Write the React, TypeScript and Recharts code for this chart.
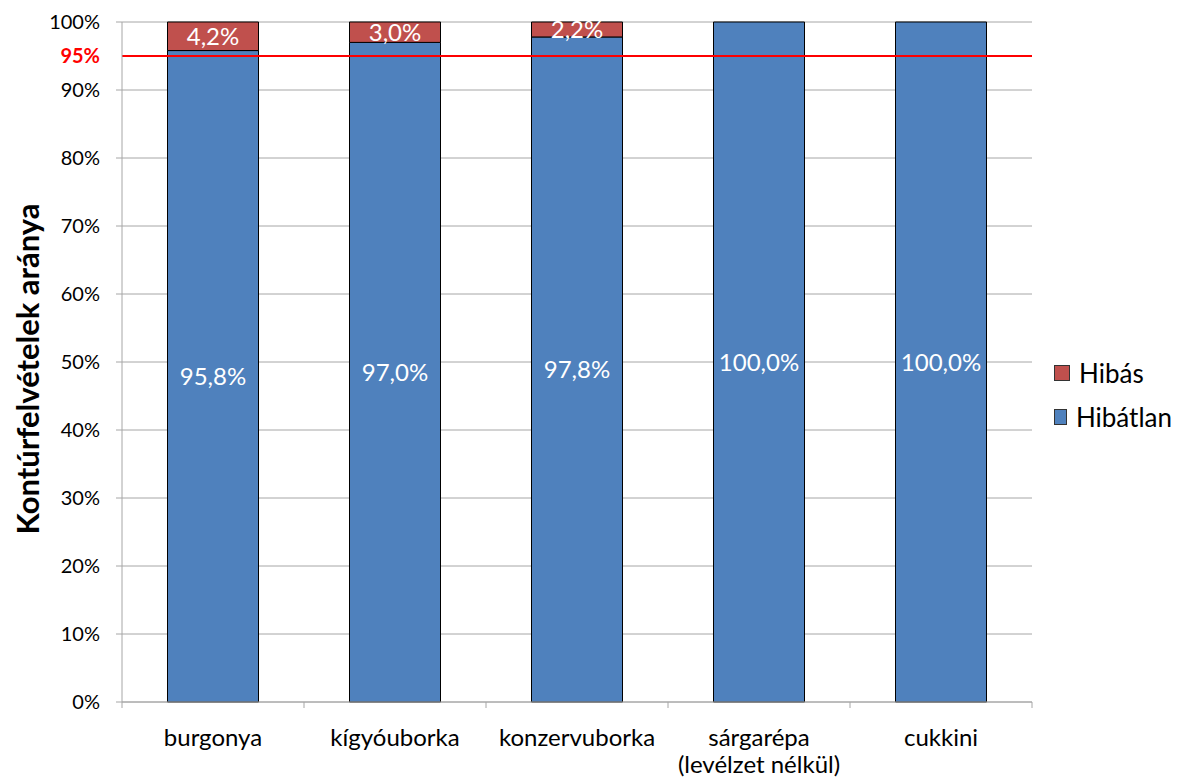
import { BarChart, Bar, XAxis, YAxis, CartesianGrid, Legend, LabelList, ReferenceLine } from 'recharts';

// Értékek (%)
const categories = ['burgonya', 'kígyóuborka', 'konzervuborka', 'sárgarépa\n(levélzet nélkül)', 'cukkini'];
const hibatlan = [95.8, 97.0, 97.8, 100.0, 100.0];
const hibas = [4.2, 3.0, 2.2, 0, 0];
const yTicks = [0, 10, 20, 30, 40, 50, 60, 70, 80, 90, 100];
const threshold = 95;

const FONT = 'Lato, "Open Sans", sans-serif';
const BLUE = '#4F81BD';
const RED = '#C0504D';
const GRID = '#A6A6A6';

const data = categories.map((name, i) => ({
  name,
  Hibatlan: hibatlan[i],
  Hibas: hibas[i]
}));

const fmt = (v: any) => {
  const n = Number(v);
  if (!n) return '';
  return n.toFixed(1).replace('.', ',') + '%';
};

const XTick = (props: any) => {
  const { x, payload, index } = props;
  const lines = String(payload.value).split('\n');
  const half = payload.offset ?? 91;
  const axisY = 702;
  return (
    <g>
      <line x1={x - half} x2={x - half} y1={axisY} y2={axisY + 6} stroke={GRID} />
      {index === categories.length - 1 && (
        <line x1={x + half} x2={x + half} y1={axisY} y2={axisY + 6} stroke={GRID} />
      )}
      <text x={x} y={axisY + 44} textAnchor="middle" fontSize={24} fontFamily={FONT} fill="#000">
        {lines.map((l, i) => (
          <tspan key={i} x={x} dy={i === 0 ? 0 : 27}>{l}</tspan>
        ))}
      </text>
    </g>
  );
};

const YLabel = (props: any) => {
  const { viewBox } = props;
  const cx = 27;
  const cy = viewBox.y + viewBox.height / 2 + 7;
  return (
    <text
      x={cx}
      y={cy}
      transform={`rotate(-90, ${cx}, ${cy})`}
      textAnchor="middle"
      dominantBaseline="central"
      fontSize={31}
      fontWeight="bold"
      fontFamily={FONT}
      fill="#000"
    >
      Kontúrfelvételek aránya
    </text>
  );
};

const legendItems = [
  { label: 'Hibás', color: RED },
  { label: 'Hibátlan', color: BLUE }
];

const LegendBox = () => (
  <div style={{ paddingLeft: 22, fontFamily: FONT, fontSize: 26, marginTop: 10 }}>
    {legendItems.map(item => (
      <div key={item.label} style={{ display: 'flex', alignItems: 'center', height: 44 }}>
        <span
          style={{
            display: 'inline-block',
            width: 14,
            height: 14,
            background: item.color,
            border: '1px solid #333',
            marginRight: 9
          }}
        />
        <span>{item.label}</span>
      </div>
    ))}
  </div>
);

export default function App() {
  return (
    <div style={{ width: 1184, height: 780, background: '#fff' }}>
      <style>{'body{margin:0}'}</style>
      <BarChart
        width={1184}
        height={780}
        data={data}
        margin={{ top: 22, right: 12, bottom: 0, left: 0 }}
        barCategoryGap="25%"
      >
        <CartesianGrid vertical={false} stroke={GRID} />
        <XAxis
          dataKey="name"
          axisLine={{ stroke: GRID }}
          tickLine={false}
          tick={<XTick />}
          height={78}
          interval={0}
        />
        <YAxis
          domain={[0, 100]}
          ticks={yTicks}
          width={122}
          axisLine={{ stroke: GRID }}
          tickLine={{ stroke: GRID }}
          tickSize={6}
          tickMargin={16}
          tick={{ fontSize: 20, fontFamily: FONT, fill: '#000' }}
          tickFormatter={(v: number) => `${v}%`}
          label={<YLabel />}
        />
        <Legend
          layout="vertical"
          align="right"
          verticalAlign="middle"
          wrapperStyle={{ width: 140 }}
          content={<LegendBox />}
        />
        <Bar dataKey="Hibatlan" stackId="a" fill={BLUE} stroke="#000" strokeWidth={1} isAnimationActive={false}>
          <LabelList dataKey="Hibatlan" position="center" formatter={fmt} fill="#fff" fontSize={24} fontFamily={FONT} />
        </Bar>
        <Bar dataKey="Hibas" stackId="a" fill={RED} stroke="#000" strokeWidth={1} isAnimationActive={false}>
          <LabelList dataKey="Hibas" position="center" formatter={fmt} fill="#fff" fontSize={24} fontFamily={FONT} />
        </Bar>
        <ReferenceLine
          y={threshold}
          stroke="#FF0000"
          strokeWidth={2}
          label={{
            value: `${threshold}%`,
            position: 'left',
            offset: 22,
            fill: '#FF0000',
            fontWeight: 'bold',
            fontSize: 20,
            fontFamily: FONT
          }}
        />
      </BarChart>
    </div>
  );
}
